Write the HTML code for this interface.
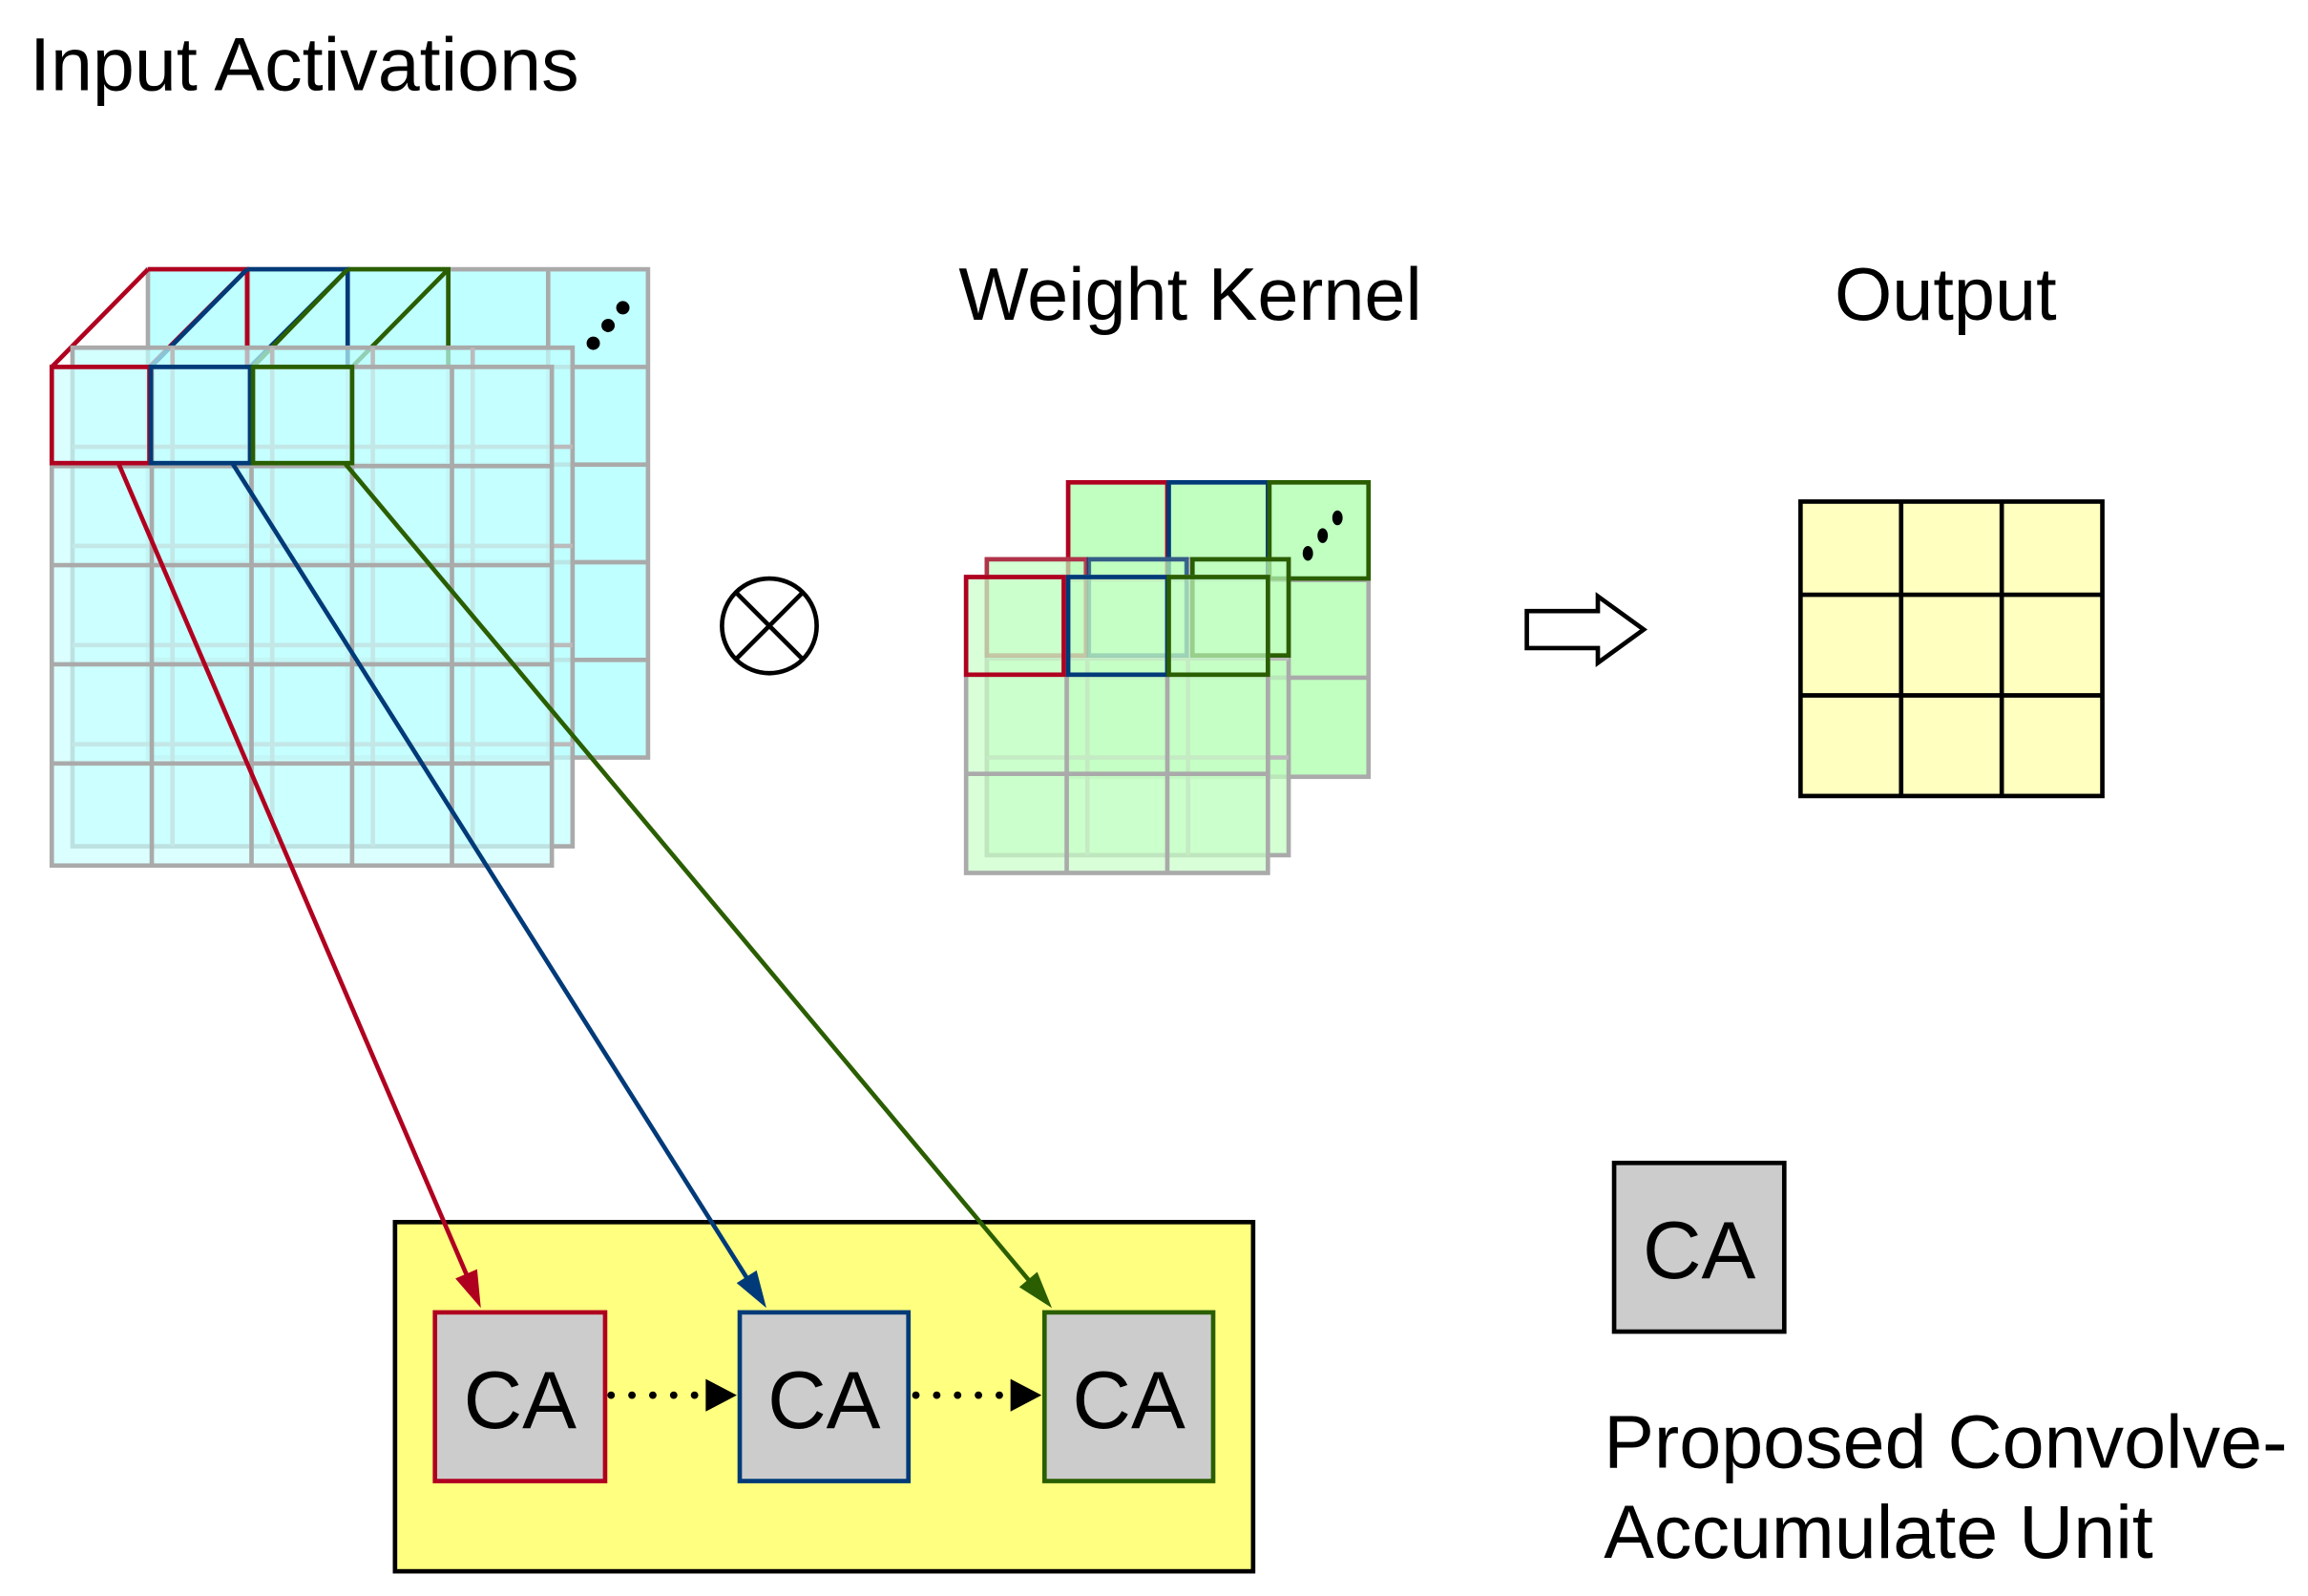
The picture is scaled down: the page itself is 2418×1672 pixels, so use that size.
<!DOCTYPE html>
<html><head><meta charset="utf-8"><style>
html,body{margin:0;padding:0;background:#fff;}
svg{display:block;}
text{font-family:"Liberation Sans",Arial,sans-serif;fill:#000;}
</style></head><body>
<svg width="2418" height="1672" viewBox="0 0 1560 1078.7" preserveAspectRatio="none" xmlns="http://www.w3.org/2000/svg">
<text x="20" y="61" font-size="51">Input Activations</text>
<text x="648" y="216" font-size="50">Weight Kernel</text>
<text x="1240" y="216" font-size="50">Output</text>

<g stroke="#aaa" stroke-width="3" fill="#c0ffff">
<rect x="100" y="182" width="338" height="330"/>
<path d="M167.6 182V512M235 182V512M303 182V512M370.5 182V512M100 248H438M100 314H438M100 380H438M100 446H438" fill="none"/>
</g>
<g fill="none" stroke-width="3">
<path d="M100 182H167V248M35 248L100 182M101 248L167 182" stroke="#b00020"/>
<path d="M167 182H235V248M102 248L167 182M169 248L235 182" stroke="#003a78"/>
<path d="M235 182H303V248M171 248L235 182M238 248L303 182" stroke="#2a5e00"/>
</g>
<circle cx="401" cy="232" r="4.5"/><circle cx="411" cy="220" r="4.5"/><circle cx="421" cy="208" r="4.5"/>
<g stroke="#aaa" stroke-width="3" fill="rgba(192,255,255,0.7)">
<rect x="49" y="235" width="338" height="337"/>
<path d="M116.6 235V572M184 235V572M252 235V572M319.5 235V572M49 302H387M49 369H387M49 436H387M49 503H387" fill="none" stroke="#bbb"/>
</g>
<g stroke="#aaa" stroke-width="3" fill="rgba(200,255,255,0.65)">
<rect x="35" y="248" width="338" height="337"/>
<path d="M102.6 248V585M170 248V585M238 248V585M305.5 248V585M35 315H373M35 382H373M35 449H373M35 516H373" fill="none"/>
</g>
<rect x="35" y="248" width="66" height="65" fill="none" stroke="#b00020" stroke-width="3"/>
<rect x="102" y="248" width="67" height="65" fill="none" stroke="#003a78" stroke-width="3"/>
<rect x="171" y="248" width="67" height="65" fill="none" stroke="#2a5e00" stroke-width="3"/>

<circle cx="520" cy="423" r="32" fill="none" stroke="#000" stroke-width="3"/>
<path d="M497.4 400.4L542.6 445.6M542.6 400.4L497.4 445.6" stroke="#000" stroke-width="3"/>

<g stroke="#aaa" stroke-width="3" fill="#c0ffc0">
<rect x="722" y="326" width="203" height="199"/>
<path d="M789.7 326V525M857.3 326V525M722 392H925M722 458H925" fill="none"/>
</g>
<rect x="722" y="326" width="67" height="65" fill="none" stroke="#b00020" stroke-width="3"/>
<rect x="790" y="326" width="67" height="65" fill="none" stroke="#003a78" stroke-width="3"/>
<rect x="858" y="326" width="67" height="65" fill="none" stroke="#2a5e00" stroke-width="3"/>
<ellipse cx="884" cy="374" rx="3.5" ry="5"/><ellipse cx="894" cy="362" rx="3.5" ry="5"/><ellipse cx="904" cy="350" rx="3.5" ry="5"/>
<g stroke="#aaa" stroke-width="3" fill="rgba(192,255,192,0.7)">
<rect x="667" y="378" width="204" height="200"/>
<path d="M735 378V578M803 378V578M667 445H871M667 512H871" fill="none" stroke="#bbb"/>
</g>
<rect x="667" y="378" width="67" height="65" fill="none" stroke="#b00020" stroke-width="3" opacity="0.7"/>
<rect x="736" y="378" width="66" height="65" fill="none" stroke="#003a78" stroke-width="3" opacity="0.7"/>
<rect x="806" y="378" width="65" height="65" fill="none" stroke="#2a5e00" stroke-width="3"/>
<g stroke="#aaa" stroke-width="3" fill="rgba(200,255,200,0.7)">
<rect x="653" y="390" width="204" height="200"/>
<path d="M721 390V590M789 390V590M653 456H857M653 523H857" fill="none"/>
</g>
<rect x="653" y="390" width="66" height="66" fill="none" stroke="#b00020" stroke-width="3"/>
<rect x="722" y="390" width="67" height="66" fill="none" stroke="#003a78" stroke-width="3"/>
<rect x="790" y="390" width="67" height="66" fill="none" stroke="#2a5e00" stroke-width="3"/>

<path d="M1032 413H1080V403L1111 425.5L1080 448V438H1032Z" fill="#fff" stroke="#000" stroke-width="3"/>

<g stroke="#000" stroke-width="3" fill="#ffffc0">
<rect x="1217" y="339" width="204" height="199"/>
<path d="M1285 339V538M1353 339V538M1217 402H1421M1217 470H1421" fill="none"/>
</g>

<rect x="267" y="826" width="580" height="236" fill="#ffff80" stroke="#000" stroke-width="3"/>

<line x1="80" y1="313" x2="316" y2="863" stroke="#b00020" stroke-width="3"/>
<polygon points="325,884 307.8,864.1 322.5,857.8" fill="#b00020"/>
<line x1="157" y1="313" x2="505" y2="864" stroke="#003a78" stroke-width="3"/>
<polygon points="518,884 497.9,867.2 511.4,858.6" fill="#003a78"/>
<line x1="233" y1="313" x2="696" y2="866" stroke="#2a5e00" stroke-width="3"/>
<polygon points="711,884 688.9,869.9 701.1,859.7" fill="#2a5e00"/>

<rect x="294" y="887" width="115" height="114" fill="#cccccc" stroke="#b00020" stroke-width="3"/>
<rect x="500" y="887" width="114" height="114" fill="#cccccc" stroke="#003a78" stroke-width="3"/>
<rect x="706" y="887" width="114" height="114" fill="#cccccc" stroke="#2a5e00" stroke-width="3"/>
<text x="351.5" y="965" font-size="55" text-anchor="middle">CA</text>
<text x="557" y="965" font-size="55" text-anchor="middle">CA</text>
<text x="763" y="965" font-size="55" text-anchor="middle">CA</text>
<line x1="413" y1="943" x2="477" y2="943" stroke="#000" stroke-width="5" stroke-dasharray="0.1,14" stroke-linecap="round"/>
<polygon points="477,932 498,943 477,954"/>
<line x1="619" y1="943" x2="683" y2="943" stroke="#000" stroke-width="5" stroke-dasharray="0.1,14" stroke-linecap="round"/>
<polygon points="683,932 704,943 683,954"/>

<rect x="1091" y="786" width="115" height="114" fill="#cccccc" stroke="#000" stroke-width="3"/>
<text x="1148.5" y="864" font-size="55" text-anchor="middle">CA</text>
<text x="1084" y="992" font-size="51">Proposed Convolve-</text>
<text x="1084" y="1053" font-size="51">Accumulate Unit</text>
</svg>
</body></html>
